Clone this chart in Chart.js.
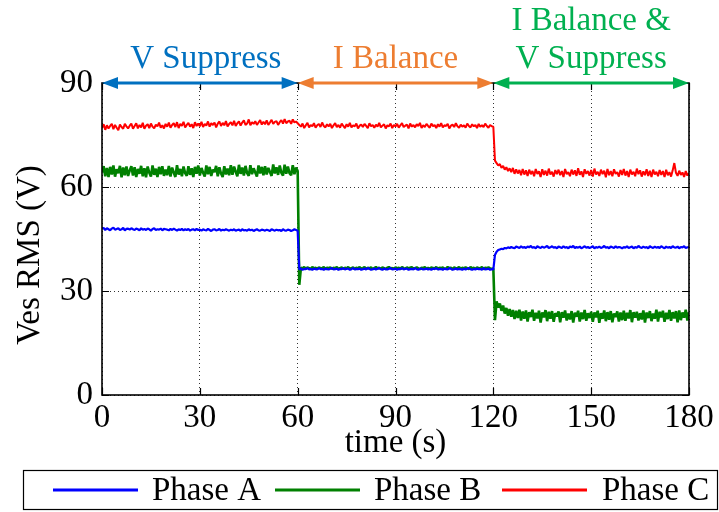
<!DOCTYPE html>
<html>
<head>
<meta charset="utf-8">
<script src="https://cdn.jsdelivr.net/npm/chart.js@4.4.1/dist/chart.umd.min.js"></script>
<style>
  html, body { margin: 0; padding: 0; background: #fff; }
  #wrap { width: 719px; height: 512px; }
</style>
</head>
<body>
<div id="wrap"><canvas id="c" width="719" height="512"></canvas></div>
<script>
// Seconds between logged RMS samples.
const SAMPLE_STEP = 0.5;

// Ves RMS per phase (V), one row = 10 s of samples.
const phaseA = [
  47.9,48.2,47.6,48.1,47.8,47.5,48.0,48.3,47.7,47.9,48.1,47.6,47.8,48.2,47.5,47.9,48.0,47.7,48.1,47.8,
  47.6,48.0,47.8,47.5,48.1,47.7,47.9,47.6,48.0,47.8,47.4,47.9,48.1,47.6,47.8,47.7,48.0,47.5,47.9,47.8,
  47.7,47.5,47.9,47.6,48.0,47.7,47.4,47.8,47.6,47.9,47.5,47.8,47.6,47.9,47.4,47.7,47.8,47.5,47.9,47.6,
  47.7,47.4,47.8,47.6,47.5,47.9,47.6,47.3,47.7,47.8,47.5,47.6,47.9,47.4,47.7,47.5,47.8,47.6,47.4,47.7,
  47.5,47.8,47.4,47.6,47.7,47.3,47.8,47.5,47.6,47.4,47.8,47.5,47.7,47.3,47.6,47.8,47.5,47.4,47.7,47.6,
  47.4,47.7,47.5,47.3,47.8,47.6,47.4,47.7,47.5,47.6,47.3,47.8,47.5,47.4,47.7,47.6,47.3,47.5,47.8,47.6,
  47.4,36.2,36.5,36.1,36.4,36.3,36.6,36.2,36.4,36.1,36.5,36.3,36.2,36.6,36.3,36.4,36.1,36.5,36.3,36.2,
  36.4,36.6,36.2,36.3,36.5,36.1,36.4,36.3,36.6,36.2,36.4,36.5,36.1,36.3,36.6,36.2,36.4,36.3,36.5,36.1,
  36.3,36.5,36.2,36.6,36.4,36.1,36.3,36.5,36.2,36.4,36.6,36.3,36.1,36.5,36.3,36.2,36.4,36.6,36.2,36.3,
  36.5,36.1,36.4,36.3,36.6,36.2,36.4,36.5,36.1,36.3,36.4,36.2,36.6,36.3,36.1,36.5,36.4,36.2,36.3,36.5,
  36.2,36.4,36.1,36.5,36.3,36.6,36.2,36.3,36.4,36.1,36.5,36.3,36.2,36.6,36.4,36.1,36.3,36.5,36.2,36.4,
  36.3,36.1,36.5,36.2,36.4,36.6,36.3,36.1,36.4,36.2,36.5,36.3,36.4,36.1,36.6,36.2,36.3,36.5,36.1,36.3,
  36.2,40.4,41.3,41.8,42.0,42.2,42.1,42.4,42.3,42.6,42.4,42.7,42.5,42.3,42.8,42.6,42.4,42.9,42.5,42.7,
  42.4,42.8,42.6,43.0,42.5,42.7,42.3,42.9,42.6,42.4,42.8,42.5,42.7,43.0,42.4,42.6,42.9,42.5,42.7,42.3,
  42.8,42.6,42.4,42.9,42.5,42.7,42.3,42.8,42.6,43.0,42.4,42.7,42.5,42.8,42.3,42.6,42.9,42.5,42.7,42.4,
  42.6,42.9,42.3,42.7,42.5,42.8,42.4,42.6,43.0,42.5,42.7,42.3,42.8,42.6,42.4,42.9,42.5,42.7,42.6,42.3,
  42.7,42.5,42.9,42.4,42.6,42.8,42.3,42.7,42.5,43.0,42.6,42.4,42.8,42.5,42.7,42.3,42.9,42.6,42.4,42.8,
  42.5,42.7,42.4,42.9,42.6,42.3,42.8,42.5,42.7,42.4,42.9,42.6,42.5,42.8,42.3,42.7,42.6,42.9,42.4,42.6,
  42.7
];

const phaseB = [
  64.2,66.0,63.1,65.5,62.9,65.8,63.6,66.2,63.0,65.1,64.0,66.1,62.8,65.6,63.4,65.9,63.2,64.8,66.0,63.3,
  65.7,62.9,65.2,63.8,66.1,63.1,65.4,62.8,65.9,64.1,63.0,66.2,63.5,65.3,62.9,65.8,63.7,66.0,63.2,65.0,
  63.4,66.1,63.0,65.6,64.2,62.9,66.3,63.6,65.2,63.1,65.9,64.0,63.2,66.0,63.5,65.4,62.9,65.8,63.8,66.2,
  63.3,65.5,64.1,63.0,66.2,63.7,65.8,63.2,65.0,64.3,66.1,63.1,65.7,63.9,62.9,66.0,63.6,65.3,63.4,66.3,
  63.5,65.9,64.4,63.1,66.4,63.8,65.6,63.3,66.1,64.0,63.2,66.3,63.7,65.4,64.2,63.0,66.2,63.9,65.8,63.4,
  66.0,63.6,65.5,64.3,63.2,66.5,63.9,65.7,63.5,66.2,64.1,63.3,66.4,63.8,65.9,64.0,63.4,66.3,63.7,65.6,
  64.6,31.8,36.7,36.5,36.9,36.4,36.8,36.6,36.3,36.9,36.5,36.7,36.4,36.8,36.6,36.5,36.9,36.3,36.7,36.6,
  36.8,36.4,36.7,36.5,36.9,36.3,36.6,36.8,36.4,36.7,36.5,36.9,36.4,36.6,36.8,36.3,36.7,36.5,36.9,36.4,
  36.6,36.9,36.4,36.7,36.5,36.8,36.3,36.6,36.9,36.5,36.7,36.4,36.8,36.6,36.3,36.7,36.9,36.5,36.6,36.4,
  36.8,36.5,36.7,36.3,36.9,36.6,36.4,36.8,36.5,36.7,36.9,36.4,36.6,36.8,36.5,36.3,36.7,36.6,36.9,36.4,
  36.7,36.4,36.8,36.6,36.5,36.9,36.3,36.7,36.6,36.8,36.4,36.5,36.9,36.6,36.7,36.3,36.8,36.5,36.6,36.9,
  36.4,36.7,36.5,36.8,36.6,36.3,36.9,36.5,36.7,36.4,36.8,36.6,36.5,36.9,36.3,36.7,36.6,36.8,36.5,36.4,
  36.5,21.6,27.0,25.2,26.4,24.3,25.8,23.5,25.1,22.9,24.8,22.6,24.5,21.9,24.3,22.2,24.6,21.5,24.1,22.0,
  24.4,21.2,23.9,22.5,24.6,21.4,23.7,22.1,24.3,20.9,23.8,22.4,24.5,21.3,24.0,22.0,24.2,21.1,23.6,22.7,
  24.1,21.0,23.9,22.3,24.4,21.5,23.5,21.8,24.2,20.9,23.7,22.6,24.3,21.2,23.8,21.9,24.5,21.4,23.6,22.2,
  24.0,21.1,23.8,22.4,24.3,20.8,23.6,22.0,24.4,21.3,23.9,21.7,24.2,21.0,23.5,22.5,24.1,21.2,23.8,21.6,
  24.3,21.4,23.7,22.1,24.5,21.0,23.9,22.3,24.0,21.5,23.6,21.8,24.4,20.9,23.8,22.2,24.2,21.3,23.5,22.0,
  24.6,21.2,24.0,22.4,24.3,21.1,23.7,21.9,24.5,21.4,23.9,22.1,24.2,21.0,24.4,21.6,23.8,22.3,24.6,21.5,
  23.9
];

const phaseC = [
  77.0,78.1,76.5,77.8,76.9,77.6,78.2,76.7,77.9,77.1,76.4,78.0,77.3,76.8,78.2,77.5,76.9,77.7,78.3,76.8,
  77.6,78.4,76.9,77.9,77.2,78.5,76.8,77.7,78.1,77.0,78.3,77.4,76.9,78.0,77.5,78.6,77.1,77.8,76.9,78.2,
  77.4,78.6,77.1,77.9,78.4,77.3,78.7,77.0,78.2,77.6,78.8,77.2,77.9,78.5,77.4,78.1,77.0,78.7,77.6,78.3,
  77.5,78.8,77.3,78.2,77.7,78.9,77.4,78.4,77.9,78.6,77.2,78.3,78.9,77.6,78.5,77.8,79.0,77.5,78.2,78.7,
  77.8,79.1,77.6,78.4,78.9,77.7,78.6,79.2,77.9,78.3,79.5,77.8,78.7,78.2,79.0,77.9,78.6,79.3,78.0,78.8,
  78.1,79.2,77.9,78.6,79.4,78.2,78.8,79.0,77.9,78.7,79.3,78.3,79.6,78.4,78.9,79.1,78.2,79.5,78.6,78.9,
  78.4,77.9,77.4,78.3,77.0,77.8,78.5,77.2,77.9,77.5,78.4,77.1,77.8,78.2,77.3,78.6,77.6,77.2,78.1,77.5,
  78.2,77.0,77.8,78.4,77.3,77.9,77.1,78.3,77.6,77.0,78.1,77.4,78.5,77.2,77.8,77.5,78.3,76.9,77.7,78.0,
  77.3,78.2,77.6,77.0,78.4,77.5,77.9,77.1,78.0,77.4,78.5,77.2,77.7,78.1,76.9,77.8,77.5,78.3,77.0,77.9,
  77.5,78.2,77.1,77.8,78.4,77.3,77.7,78.0,76.9,78.3,77.4,77.9,77.2,78.1,77.6,78.5,77.0,77.8,77.3,78.2,
  77.6,77.1,78.3,77.5,77.9,77.0,78.1,77.4,78.4,77.2,77.8,77.6,78.2,76.9,77.7,78.0,77.3,78.4,77.5,77.1,
  78.0,77.4,77.8,77.1,78.3,77.6,77.2,78.1,77.5,77.9,77.0,78.2,77.4,77.8,77.3,78.3,77.6,77.1,77.9,77.5,
  77.4,67.6,66.9,66.2,66.6,65.5,66.1,65.0,65.7,64.6,65.4,64.3,65.5,63.8,65.1,63.9,64.9,63.4,65.2,63.6,
  64.8,63.2,65.0,63.7,64.6,63.1,65.2,63.8,64.5,62.9,65.1,63.5,64.7,63.3,65.3,63.6,64.4,63.0,64.9,63.7,
  65.0,63.4,64.6,62.9,65.2,63.7,64.3,63.1,65.0,63.6,64.8,63.2,65.4,63.5,64.5,62.9,65.1,63.8,64.6,63.3,
  64.9,63.0,65.3,63.6,64.4,63.2,65.0,63.7,64.7,62.8,65.2,63.4,64.6,63.1,65.1,63.8,64.3,63.0,64.9,63.5,
  65.2,63.3,64.6,62.9,65.0,63.6,64.4,63.1,65.3,63.7,64.8,63.0,64.5,63.4,65.1,63.2,64.7,62.9,65.0,63.6,
  64.4,63.1,64.9,63.5,64.6,62.9,65.0,63.4,64.3,63.0,64.8,66.9,64.1,63.2,64.7,63.5,64.2,62.9,64.6,63.3,
  64.0
];

const seriesNames = ['Phase A', 'Phase B', 'Phase C'];
const xTicks = [0, 30, 60, 90, 120, 150, 180];
const yTicks = [0, 30, 60, 90];

// Control modes along the time axis (s).
const modeLabels = [['V Suppress'], ['I Balance'], ['I Balance &', 'V Suppress']];
const modeStart = [0, 60, 120];
const modeEnd = [60, 120, 180];

const sampleTimes = phaseA.map((_, i) => i * SAMPLE_STEP);
const toPoints = vals => vals.map((v, i) => ({ x: sampleTimes[i], y: v }));

const FONT = "'Liberation Serif', 'Times New Roman', Times, serif";
const FONT_SIZE = 33;
const lineColors = ['#0000ff', '#008000', '#ff0000'];
const lineWidths = [2.2, 2.6, 2.0];
const modeColors = ['#0070c0', '#ed7d31', '#00b050'];

const decor = {
  id: 'decor',
  afterDatasetsDraw(chart) {
    const { ctx, chartArea: a, scales: { x, y } } = chart;
    ctx.save();
    // inward tick marks on all four sides
    ctx.strokeStyle = '#000';
    ctx.lineWidth = 1.2;
    ctx.beginPath();
    xTicks.forEach(v => {
      const px = Math.round(x.getPixelForValue(v)) + 0.5;
      ctx.moveTo(px, a.bottom); ctx.lineTo(px, a.bottom - 7);
      ctx.moveTo(px, a.top); ctx.lineTo(px, a.top + 7);
    });
    yTicks.forEach(v => {
      const py = Math.round(y.getPixelForValue(v)) + 0.5;
      ctx.moveTo(a.left, py); ctx.lineTo(a.left + 7, py);
      ctx.moveTo(a.right, py); ctx.lineTo(a.right - 7, py);
    });
    ctx.stroke();
    // frame
    ctx.lineWidth = 1.6;
    ctx.strokeRect(a.left, a.top, a.right - a.left, a.bottom - a.top);
    ctx.restore();
  },
  afterDraw(chart) {
    const { ctx, chartArea: a, scales: { x } } = chart;
    ctx.save();
    // double-headed mode arrows along the top edge
    const head = 16, half = 6, ay = a.top;
    modeStart.forEach((s, k) => {
      const x1 = x.getPixelForValue(s), x2 = x.getPixelForValue(modeEnd[k]);
      ctx.strokeStyle = modeColors[k];
      ctx.fillStyle = modeColors[k];
      ctx.lineWidth = 3;
      ctx.beginPath();
      ctx.moveTo(x1 + head - 2, ay); ctx.lineTo(x2 - head + 2, ay);
      ctx.stroke();
      ctx.beginPath();
      ctx.moveTo(x1, ay); ctx.lineTo(x1 + head, ay - half); ctx.lineTo(x1 + head, ay + half); ctx.closePath();
      ctx.moveTo(x2, ay); ctx.lineTo(x2 - head, ay - half); ctx.lineTo(x2 - head, ay + half); ctx.closePath();
      ctx.fill();
      // mode caption
      ctx.font = FONT_SIZE + 'px ' + FONT;
      ctx.textAlign = 'center';
      ctx.textBaseline = 'alphabetic';
      const cx = (x1 + x2) / 2 + (k === 0 ? 6 : 0);
      const lines = modeLabels[k];
      lines.forEach((t, j) => {
        const by = ay - 15 - (lines.length - 1 - j) * 38;
        ctx.fillText(t, cx, by);
      });
    });

    // y-axis title
    ctx.fillStyle = '#000';
    ctx.font = FONT_SIZE + 'px ' + FONT;
    ctx.translate(30, 255);
    ctx.rotate(-Math.PI / 2);
    ctx.textAlign = 'center';
    ctx.textBaseline = 'middle';
    ctx.fillText('Ves RMS (V)', 0, 0);
    ctx.setTransform(1, 0, 0, 1, 0, 0);

    // legend box
    ctx.strokeStyle = '#000';
    ctx.lineWidth = 1.2;
    ctx.strokeRect(23.5, 470.5, 694, 39);
    const lx = [53, 275, 502], tx = [152, 374, 602], ly = 490;
    ctx.font = FONT_SIZE + 'px ' + FONT;
    ctx.textAlign = 'left';
    ctx.textBaseline = 'middle';
    seriesNames.forEach((name, k) => {
      ctx.strokeStyle = lineColors[k];
      ctx.lineWidth = 3;
      ctx.beginPath();
      ctx.moveTo(lx[k], ly); ctx.lineTo(lx[k] + 85, ly);
      ctx.stroke();
      ctx.fillStyle = '#000';
      ctx.fillText(name, tx[k], ly + 1);
    });
    ctx.restore();
  }
};

const gridStyle = {
  color: '#333',
  lineWidth: 1,
  drawTicks: false,
};

new Chart(document.getElementById('c'), {
  type: 'line',
  data: {
    datasets: [phaseA, phaseB, phaseC].map((vals, k) => ({
      label: seriesNames[k],
      data: toPoints(vals),
      borderColor: lineColors[k],
      borderWidth: lineWidths[k],
      borderJoinStyle: 'bevel',
      pointRadius: 0,
      tension: 0,
      fill: false,
    })),
  },
  options: {
    responsive: false,
    animation: false,
    devicePixelRatio: 1,
    layout: { padding: { top: 83, right: 30, left: 0, bottom: 0 } },
    plugins: { legend: { display: false }, tooltip: { enabled: false } },
    scales: {
      x: {
        type: 'linear',
        min: 0, max: 180,
        afterBuildTicks: s => { s.ticks = xTicks.map(v => ({ value: v })); },
        afterFit: s => { s.height = 117; },
        grid: gridStyle,
        border: { display: false, dash: [1, 3] },
        ticks: { color: '#000', padding: 4, maxRotation: 0, font: { family: FONT, size: FONT_SIZE } },
        title: { display: true, text: 'time (s)', color: '#000', font: { family: FONT, size: FONT_SIZE }, padding: { top: 0, bottom: 49 } },
      },
      y: {
        type: 'linear',
        min: 0, max: 90,
        afterBuildTicks: s => { s.ticks = yTicks.map(v => ({ value: v })); },
        afterFit: s => { s.width = 102; },
        grid: gridStyle,
        border: { display: false, dash: [1, 3] },
        ticks: { color: '#000', padding: 9, font: { family: FONT, size: FONT_SIZE } },
      },
    },
  },
  plugins: [decor],
});
</script>
</body>
</html>
